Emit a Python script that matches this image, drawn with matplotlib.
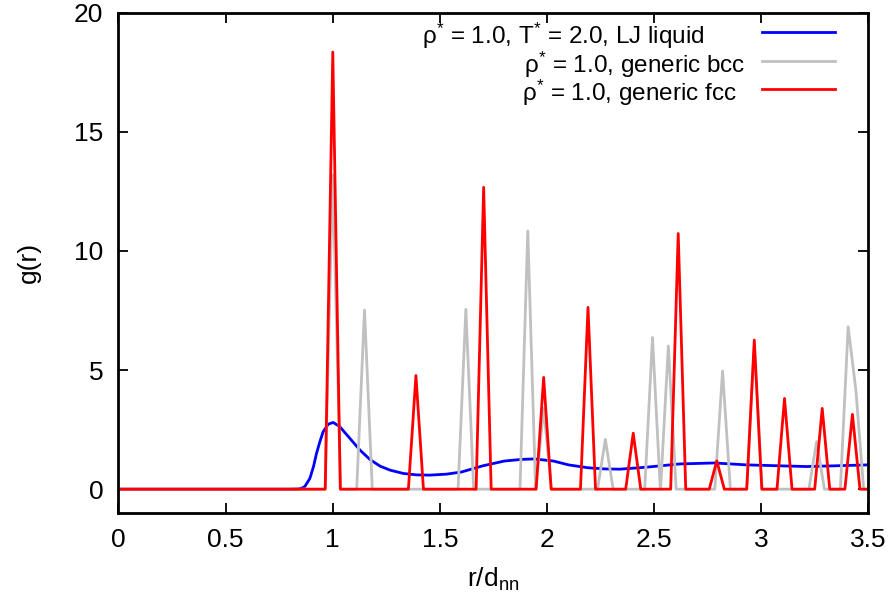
import matplotlib
matplotlib.use("Agg")
import matplotlib.pyplot as plt
from matplotlib.lines import Line2D

plt.rcParams['font.family'] = ['Liberation Sans', 'DejaVu Sans']
plt.rcParams['mathtext.fontset'] = 'custom'
plt.rcParams['mathtext.rm'] = 'Liberation Sans'
plt.rcParams['mathtext.it'] = 'Liberation Sans'
plt.rcParams['mathtext.default'] = 'regular'

# ---- data ----
liq_r = [0.0, 0.80, 0.84, 0.855, 0.87, 0.893, 0.91, 0.924, 0.94, 0.955, 0.979, 1.002,
         1.033, 1.08, 1.127, 1.173, 1.22, 1.267, 1.329, 1.391, 1.453, 1.53, 1.60,
         1.70, 1.80, 1.88, 1.94, 2.03, 2.10, 2.19, 2.27, 2.34, 2.46, 2.62, 2.78,
         2.93, 3.09, 3.21, 3.34, 3.50]
liq_g = [0.0, 0.0, 0.01, 0.04, 0.12, 0.45, 0.95, 1.50, 2.00, 2.41, 2.73, 2.80,
         2.62, 2.13, 1.64, 1.25, 0.97, 0.80, 0.66, 0.60, 0.59, 0.63, 0.72,
         0.98, 1.18, 1.25, 1.27, 1.18, 1.02, 0.90, 0.85, 0.84, 0.92, 1.06, 1.10,
         1.02, 0.98, 0.95, 0.98, 1.02]

bcc_r = [1.000, 1.148, 1.621, 1.910, 1.984, 2.272, 2.492, 2.566, 2.819, 2.967,
         3.258, 3.405, 3.441]
bcc_g = [13.19, 7.52, 7.55, 10.84, 3.40, 2.09, 6.37, 6.01, 4.96, 6.00,
         2.00, 6.82, 4.16]

fcc_r = [1.000, 1.388, 1.704, 1.984, 2.191, 2.402, 2.612, 2.792, 2.967, 3.108,
         3.284, 3.425]
fcc_g = [18.35, 4.77, 12.67, 4.69, 7.63, 2.35, 10.73, 1.19, 6.26, 3.81,
         3.39, 3.14]

bin_bcc = 0.0364
bin_fcc = 0.0351

labels = [r'ρ$^{*}$ = 1.0, T$^{*}$ = 2.0, LJ liquid',
          r'ρ$^{*}$ = 1.0, generic bcc',
          r'ρ$^{*}$ = 1.0, generic fcc']
colors = ['#0000ff', '#c0c0c0', '#ff0000']

xticks = [0, 0.5, 1, 1.5, 2, 2.5, 3, 3.5]
xticklabels = ['0', '0.5', '1', '1.5', '2', '2.5', '3', '3.5']
yticks = [0, 5, 10, 15, 20]


def spikes(r, g, h, xmax=3.5):
    xs, ys = [0.0], [0.0]
    n = len(r)
    for i in range(n):
        if i == 0 or r[i] - r[i - 1] > 1.5 * h:
            xs.append(r[i] - h); ys.append(0.0)
        xs.append(r[i]); ys.append(g[i])
        if i == n - 1 or r[i + 1] - r[i] > 1.5 * h:
            xs.append(r[i] + h); ys.append(0.0)
    xs.append(xmax); ys.append(0.0)
    return xs, ys


W, H = 895, 605
fig = plt.figure(figsize=(W / 100, H / 100), dpi=100)
ax = fig.add_axes([118.5 / W, 1 - 513 / H, (868.5 - 118.5) / W, (513 - 12.7) / H])

lw = 2.0
ax.plot(liq_r, liq_g, color=colors[0], lw=lw, label=labels[0])
bx, by = spikes(bcc_r, bcc_g, bin_bcc)
ax.plot(bx, by, color=colors[1], lw=lw, label=labels[1])
fx, fy = spikes(fcc_r, fcc_g, bin_fcc)
ax.plot(fx, fy, color=colors[2], lw=lw, label=labels[2])

ax.set_xlim(0, 3.5)
ax.set_ylim(-1, 20)
ax.set_xticks(xticks)
ax.set_xticklabels(xticklabels)
ax.set_yticks(yticks)
fs = 19
ax.tick_params(direction='in', top=True, right=True, length=7, width=1.3,
               labelsize=fs, pad=11)
for s in ax.spines.values():
    s.set_linewidth(2.0)

ax.set_xlabel(r'r/d$_{nn}$', fontsize=fs, labelpad=10)
ax.set_ylabel('g(r)', fontsize=fs, labelpad=24)

# key (gnuplot-style: right-justified text, line sample on the right)
key_fs = 17.5
text_right = [705, 745, 737]
row_base = [44.0, 72.5, 101.0]
for lab, c, xr, yb in zip(labels, colors, text_right, row_base):
    fig.text(xr / W, 1 - yb / H, lab, ha='right', va='baseline', fontsize=key_fs)
    yl = 1 - (yb - 12.0) / H
    fig.add_artist(Line2D([762 / W, 835 / W], [yl, yl], color=c, lw=lw,
                          transform=fig.transFigure))

fig.savefig('out.png', dpi=100)
